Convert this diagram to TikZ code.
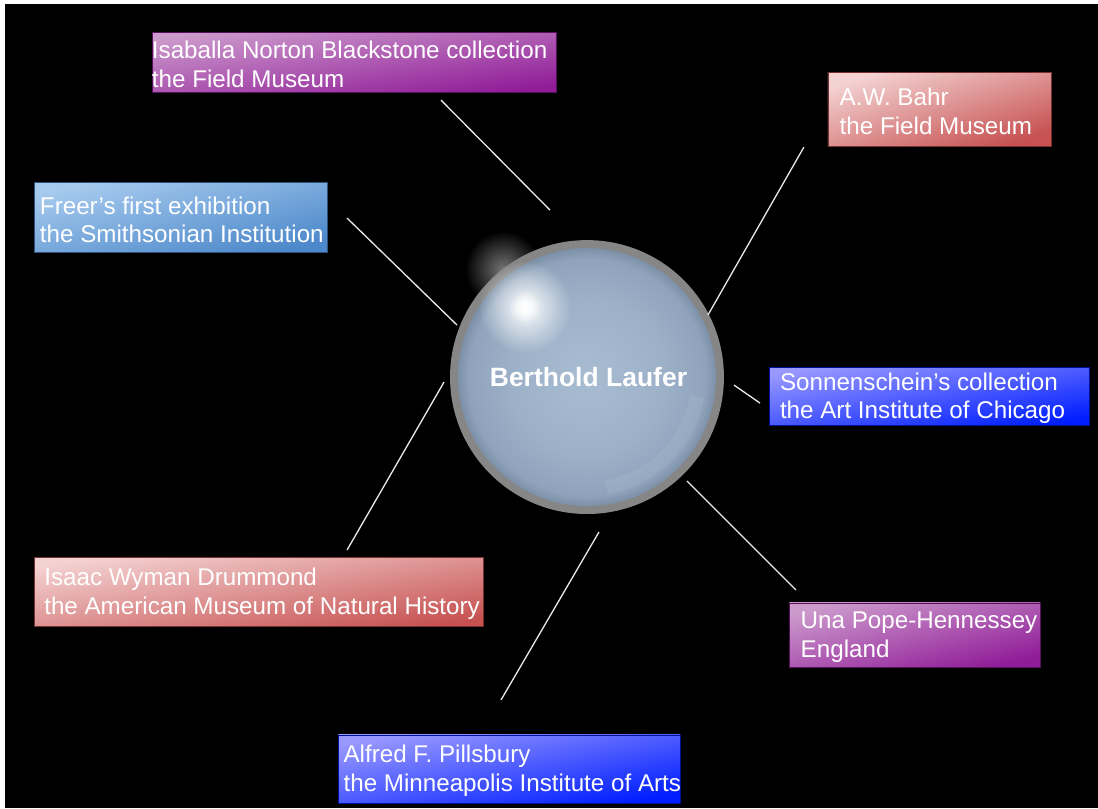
\documentclass[tikz,border=0pt]{standalone}
\usepackage{fontspec}
\setmainfont{Liberation Sans}
\usepackage{tikz}
\usetikzlibrary{positioning,fadings}
\definecolor{purpleA}{HTML}{CC9ACC}
\definecolor{purpleB}{HTML}{901C98}
\definecolor{pinkA}{HTML}{F4D2D2}
\definecolor{pinkB}{HTML}{C75252}
\definecolor{skyA}{HTML}{A6CAEE}
\definecolor{skyB}{HTML}{4C88CA}
\definecolor{blueA}{HTML}{9898FF}
\definecolor{blueB}{HTML}{001EFF}
\definecolor{ringgray}{HTML}{868686}
\definecolor{orbA}{HTML}{A8BCD1}
\definecolor{orbB}{HTML}{9CB1C8}
\definecolor{orbC}{HTML}{8FA4BC}
\definecolor{orbD}{HTML}{7C91A8}
\pgfdeclareradialshading{orbshade}{\pgfpoint{0bp}{0bp}}{color(0bp)=(orbA); color(15bp)=(orbB); color(23bp)=(orbC); color(25bp)=(orbD); color(50bp)=(orbD)}
\tikzfading[name=glow, inner color=transparent!0, outer color=transparent!100]

\begin{document}
\begin{tikzpicture}[scale=1.000000,x=1pt,y=1pt,
  spoke/.style={draw=white!92!black, line width=1.300000pt},
  boxbase/.style={rectangle, inner sep=0pt, line width=0.800000pt},
  purplebox/.style={boxbase, top color=purpleA, bottom color=purpleB, shading angle=#1, draw=purpleB!60!black},
  purplebox/.default=10,
  pinkbox/.style={boxbase, top color=pinkA, bottom color=pinkB, shading angle=#1, draw=pinkB!60!black},
  pinkbox/.default=10,
  skybox/.style={boxbase, top color=skyA, bottom color=skyB, shading angle=#1, draw=skyB!60!black},
  skybox/.default=10,
  bluebox/.style={boxbase, top color=blueA, bottom color=blueB, shading angle=#1, draw=blueB!60!black},
  bluebox/.default=10,
  boxtext/.style={text=white, inner sep=0pt, align=left, yshift=-2pt, font=\fontsize{24.2}{28.5}\selectfont},
  orbtext/.style={text=white, inner sep=0pt, font=\bfseries\fontsize{26.5}{30}\selectfont}]
\filldraw[color=white] (0.000000, 0.000000) rectangle (1098.000000, 808.000000);
\fill[black] (5.000000, 0.000000) rectangle (1098.000000, 804.000000);
% Drawing the orb
\coordinate (hub) at (587.000000, 431.000000);
\fill[white, path fading=glow, fill opacity=0.45] (503.000000, 539.000000) circle (38pt);
\fill[ringgray] (hub) circle (137pt);
\shade[shading=orbshade] (hub) circle (129pt);
\fill[white, path fading=glow] (525.000000, 501.000000) circle (46pt);
\fill[white, path fading=glow] (525.000000, 501.000000) circle (16pt);
\draw[white, opacity=0.06, line width=14pt] ([shift={(-80:112pt)}]hub) arc (-80:-10:112pt);
\node[orbtext] (laufer) at (588.500000, 431.500000) {Berthold Laufer};
% Done with the orb; drawing boxes
% Box 1: Isaballa Norton Blackstone
\node[purplebox=8, minimum width=404pt, minimum height=60pt] (isaballa) at (354.000000, 746.000000) {};
\node[boxtext, right=0pt of isaballa.west] (isaballa-txt) {Isaballa Norton Blackstone collection\\the Field Museum};
% Box 2: A.W. Bahr
\node[pinkbox=18, minimum width=224pt, minimum height=74pt] (bahr) at (940.000000, 699.000000) {};
\node[boxtext, right=12pt of bahr.west] (bahr-txt) {A.W. Bahr\\the Field Museum};
% Box 3: Freer
\node[skybox=13, minimum width=293pt, minimum height=70pt] (freer) at (181.000000, 590.500000) {};
\node[boxtext, right=5.5pt of freer.west] (freer-txt) {Freer’s first exhibition\\the Smithsonian Institution};
% Box 4: Sonnenschein
\node[bluebox, minimum width=320pt, minimum height=58pt] (sonnen) at (929.300000, 412.000000) {};
\node[boxtext, right=11pt of sonnen.west] (sonnen-txt) {Sonnenschein’s collection\\the Art Institute of Chicago};
% Box 5: Drummond
\node[pinkbox=9, minimum width=449pt, minimum height=69pt] (drummond) at (258.800000, 216.000000) {};
\node[boxtext, right=10pt of drummond.west] (drummond-txt) {Isaac Wyman Drummond\\the American Museum of Natural History};
% Box 6: Pope-Hennessey
\node[purplebox=14, minimum width=251pt, minimum height=64pt] (una) at (915.000000, 173.000000) {};
\node[boxtext, right=11.5pt of una.west] (una-txt) {Una Pope-Hennessey\\England};
% Box 7: Pillsbury
\node[bluebox=11, minimum width=342pt, minimum height=68pt] (pillsbury) at (509.200000, 39.000000) {};
\node[boxtext, right=5.5pt of pillsbury.west] (pillsbury-txt) {Alfred F. Pillsbury\\the Minneapolis Institute of Arts};
% Done with boxes; drawing spokes
\coordinate (isaballa-a) at (441.000000, 708.000000);
\coordinate (isaballa-b) at (550.000000, 598.000000);
\coordinate (bahr-a) at (804.000000, 661.000000);
\coordinate (bahr-b) at (708.000000, 493.000000);
\coordinate (freer-a) at (347.000000, 590.000000);
\coordinate (freer-b) at (457.000000, 483.000000);
\coordinate (sonnen-a) at (760.000000, 405.000000);
\coordinate (sonnen-b) at (734.000000, 423.000000);
\coordinate (drummond-a) at (347.000000, 258.000000);
\coordinate (drummond-b) at (444.000000, 426.000000);
\coordinate (una-a) at (796.000000, 218.000000);
\coordinate (una-b) at (687.000000, 327.000000);
\coordinate (pillsbury-a) at (501.000000, 108.000000);
\coordinate (pillsbury-b) at (599.000000, 276.000000);
\draw[spoke] (isaballa-a) -- (isaballa-b);
\draw[spoke] (bahr-a) -- (bahr-b);
\draw[spoke] (freer-a) -- (freer-b);
\draw[spoke] (sonnen-a) -- (sonnen-b);
\draw[spoke] (drummond-a) -- (drummond-b);
\draw[spoke] (una-a) -- (una-b);
\draw[spoke] (pillsbury-a) -- (pillsbury-b);
% Done with spokes
\end{tikzpicture}
\end{document}
